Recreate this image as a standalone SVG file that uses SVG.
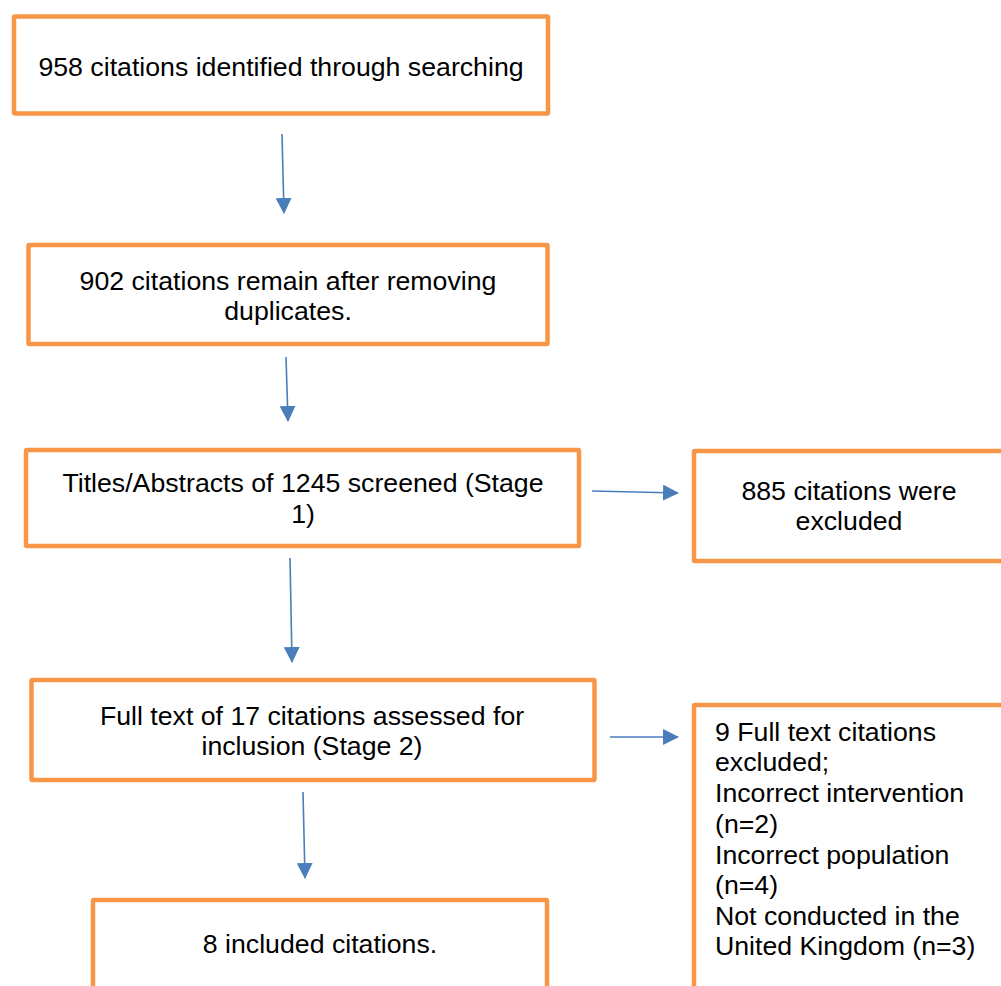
<svg xmlns="http://www.w3.org/2000/svg" width="1001" height="986" viewBox="0 0 1001 986">
<style>
.box{fill:#fff;stroke:#F79646;stroke-width:4.5}
.t{font-family:"Liberation Sans",Arial,sans-serif;font-size:26.7px;fill:#000}
.c{text-anchor:middle}
.conn{stroke:#4A7EBB;stroke-width:1.6;fill:none}
</style>
<defs>
<marker id="ah" markerUnits="userSpaceOnUse" markerWidth="16" markerHeight="16" viewBox="0 0 16 16" refX="15" refY="8" orient="auto">
<path d="M0,0 L16,8 L0,16 Z" fill="#4A7EBB"/>
</marker>
</defs>
<rect width="1001" height="986" fill="#fff"/>
<g id="n1"><rect class="box" x="14" y="16.5" width="534" height="97" rx="1"/>
<text class="t c" x="281" y="76">958 citations identified through searching</text></g>
<g id="n2"><rect class="box" x="28.5" y="245" width="519" height="99" rx="1"/>
<text class="t c" x="288" y="290">902 citations remain after removing</text>
<text class="t c" x="288" y="320">duplicates.</text></g>
<g id="n3"><rect class="box" x="26" y="450" width="553" height="96" rx="1"/>
<text class="t c" x="303" y="492">Titles/Abstracts of 1245 screened (Stage</text>
<text class="t c" x="303" y="523">1)</text></g>
<g id="n4"><rect class="box" x="694" y="451" width="320" height="110" rx="1"/>
<text class="t c" x="849" y="500">885 citations were</text>
<text class="t c" x="849" y="530">excluded</text></g>
<g id="n5"><rect class="box" x="31.5" y="680" width="563" height="100" rx="1"/>
<text class="t c" x="312" y="725">Full text of 17 citations assessed for</text>
<text class="t c" x="312" y="755">inclusion (Stage 2)</text></g>
<g id="n6"><rect class="box" x="694" y="705" width="320" height="300" rx="1"/>
<text class="t" x="715" y="741">9 Full text citations</text>
<text class="t" x="715" y="771">excluded;</text>
<text class="t" x="715" y="802">Incorrect intervention</text>
<text class="t" x="715" y="833">(n=2)</text>
<text class="t" x="715" y="864">Incorrect population</text>
<text class="t" x="715" y="894">(n=4)</text>
<text class="t" x="715" y="925">Not conducted in the</text>
<text class="t" x="715" y="955">United Kingdom (n=3)</text></g>
<g id="n7"><rect class="box" x="93" y="900" width="454" height="120" rx="1"/>
<text class="t c" x="320" y="953">8 included citations.</text></g>
<g id="connectors">
<line class="conn" x1="282" y1="134" x2="284" y2="213" marker-end="url(#ah)"/>
<line class="conn" x1="286" y1="357" x2="288" y2="421" marker-end="url(#ah)"/>
<line class="conn" x1="290" y1="558" x2="292" y2="662" marker-end="url(#ah)"/>
<line class="conn" x1="303" y1="792" x2="305" y2="878" marker-end="url(#ah)"/>
<line class="conn" x1="592" y1="491" x2="678" y2="493" marker-end="url(#ah)"/>
<line class="conn" x1="610" y1="737" x2="678" y2="737" marker-end="url(#ah)"/>
</g>
</svg>
